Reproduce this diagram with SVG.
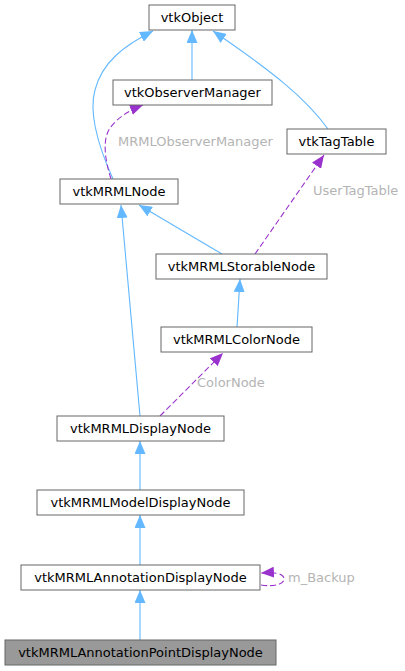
<svg xmlns="http://www.w3.org/2000/svg" width="405" height="671" viewBox="0 0 405 671">
<style>
.node rect{fill:#ffffff;stroke:#666666;stroke-width:1}
.node.hl rect{fill:#999999}
.node text{font-family:"DejaVu Sans",sans-serif;font-size:13px;fill:#000000;text-anchor:middle}
.e{fill:none;stroke:#63b8ff;stroke-width:1.1}
.d{fill:none;stroke:#9a32cd;stroke-width:1.1;stroke-dasharray:6,3}
.lbl{font-family:"DejaVu Sans",sans-serif;font-size:13px;fill:#b4b4b4}
</style>
<defs>
<marker id="ab" viewBox="0 0 13 11" refX="13" refY="5.5" markerWidth="13" markerHeight="11" markerUnits="userSpaceOnUse" orient="auto">
<path d="M0,0 L13,5.5 L0,11 z" fill="#63b8ff"/>
</marker>
<marker id="ap" viewBox="0 0 13 11" refX="13" refY="5.5" markerWidth="13" markerHeight="11" markerUnits="userSpaceOnUse" orient="auto">
<path d="M0,0 L13,5.5 L0,11 z" fill="#9a32cd"/>
</marker>
</defs>
<rect width="405" height="671" fill="#ffffff"/>
<g id="edges">
<path class="e" d="M192,80 L192,30" marker-end="url(#ab)"/>
<path class="e" d="M113,179 C100,150 88,115 95,90 C102,62 125,45 153,31" marker-end="url(#ab)"/>
<path class="e" d="M328,129 C305,97 270,70 213,31" marker-end="url(#ab)"/>
<path class="d" d="M111,179 C105,160 102,140 110,128 C118,117 130,110 143,105" marker-end="url(#ap)"/>
<path class="d" d="M255,254 L324,155" marker-end="url(#ap)"/>
<path class="e" d="M222,254 L139,205" marker-end="url(#ab)"/>
<path class="e" d="M140,416 L121,205" marker-end="url(#ab)"/>
<path class="e" d="M237,327 L240,279" marker-end="url(#ab)"/>
<path class="d" d="M160,416 L223,353" marker-end="url(#ap)"/>
<path class="e" d="M140,490 L140,441" marker-end="url(#ab)"/>
<path class="e" d="M140,565 L140,515" marker-end="url(#ab)"/>
<path class="e" d="M140,640 L140,590" marker-end="url(#ab)"/>
<path class="d" d="M261,585 C275,587 284,584 284,579 C284,574 277,572 261,573" marker-end="url(#ap)"/>
<text class="lbl" x="118" y="146">MRMLObserverManager</text>
<text class="lbl" x="313" y="195">UserTagTable</text>
<text class="lbl" x="197" y="387">ColorNode</text>
<text class="lbl" x="288" y="582">m_Backup</text>
</g>
<g id="vtkObject" class="node"><rect x="149" y="5" width="86" height="25"/><text x="192" y="22">vtkObject</text></g>
<g id="vtkObserverManager" class="node"><rect x="113" y="80" width="159" height="25"/><text x="192.5" y="97">vtkObserverManager</text></g>
<g id="vtkTagTable" class="node"><rect x="287" y="129" width="99" height="25"/><text x="336.5" y="146">vtkTagTable</text></g>
<g id="vtkMRMLNode" class="node"><rect x="60" y="179" width="118" height="25"/><text x="119" y="196">vtkMRMLNode</text></g>
<g id="vtkMRMLStorableNode" class="node"><rect x="156" y="254" width="171" height="25"/><text x="241.5" y="271">vtkMRMLStorableNode</text></g>
<g id="vtkMRMLColorNode" class="node"><rect x="161" y="327" width="151" height="25"/><text x="236.5" y="344">vtkMRMLColorNode</text></g>
<g id="vtkMRMLDisplayNode" class="node"><rect x="57" y="416" width="167" height="25"/><text x="140.5" y="433">vtkMRMLDisplayNode</text></g>
<g id="vtkMRMLModelDisplayNode" class="node"><rect x="37" y="490" width="207" height="25"/><text x="140.5" y="507">vtkMRMLModelDisplayNode</text></g>
<g id="vtkMRMLAnnotationDisplayNode" class="node"><rect x="21" y="565" width="239" height="25"/><text x="140.5" y="582">vtkMRMLAnnotationDisplayNode</text></g>
<g id="vtkMRMLAnnotationPointDisplayNode" class="node hl"><rect x="5" y="640" width="271" height="25"/><text x="140.5" y="657">vtkMRMLAnnotationPointDisplayNode</text></g>
</svg>
